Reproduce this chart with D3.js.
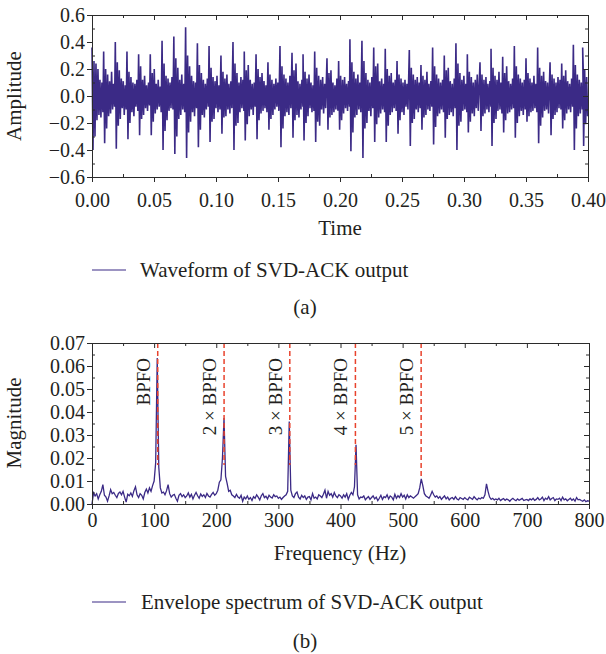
<!DOCTYPE html>
<html>
<head>
<meta charset="utf-8">
<script src="https://cdn.jsdelivr.net/npm/d3@7"></script>
<style>
  body { margin: 0; background: #fff; }
  svg { display: block; font-family: "Liberation Serif", "Times New Roman", serif; }
  .axis path, .axis line { stroke: #2b2b2b; }
  .axis text { fill: #231f20; font-family: "Liberation Serif", serif; }
</style>
</head>
<body>
<div id="chart"></div>
<script>
// (a) waveform. One row per impulse: samples every 0.8 ms starting at the impulse, amplitude x 0.01
var impulseTimes = [0.0000, 0.0094, 0.0188, 0.0282, 0.0376, 0.0470, 0.0565, 0.0660, 0.0755, 0.0850,
    0.0944, 0.1040, 0.1137, 0.1228, 0.1323, 0.1419, 0.1516, 0.1613, 0.1702, 0.1796,
    0.1895, 0.1989, 0.2080, 0.2177, 0.2272, 0.2365, 0.2460, 0.2559, 0.2653, 0.2747,
    0.2841, 0.2935, 0.3027, 0.3129, 0.3218, 0.3312, 0.3406, 0.3500, 0.3594, 0.3694,
    0.3788, 0.3882, 0.3957];
var sampleStep = 0.0008;
var waveRows = [
    [36, -40, 26, -30, 24, -18, 20, -14, 12, -16, 10, -12],
    [33, -35, 20, -24, 16, -15, 11, -13, 18, -10, 9, -8],
    [40, -39, 25, -22, 19, -17, 13, -9, 11, -14, 8, -10],
    [33, -32, 18, -20, 14, -12, 10, -15, 9, -8, 12, -11],
    [31, -29, 22, -17, 12, -14, 15, -9, 8, -11, 10, -7],
    [31, -29, 17, -19, 20, -13, 9, -10, 12, -8, 7, -12],
    [41, -40, 24, -26, 15, -18, 13, -11, 10, -9, 14, -10],
    [44, -43, 28, -30, 21, -17, 12, -14, 16, -10, 9, -12],
    [51, -46, 30, -27, 22, -19, 15, -12, 11, -15, 10, -9],
    [39, -38, 23, -25, 17, -14, 12, -16, 9, -10, 13, -8],
    [37, -34, 21, -19, 14, -17, 11, -9, 15, -12, 8, -10],
    [30, -28, 18, -16, 13, -15, 16, -10, 9, -13, 11, -9],
    [40, -40, 24, -22, 17, -20, 10, -12, 14, -9, 12, -11],
    [33, -33, 19, -21, 23, -15, 12, -10, 9, -14, 10, -8],
    [31, -32, 20, -18, 14, -13, 17, -11, 11, -9, 8, -12],
    [25, -25, 16, -17, 12, -14, 9, -10, 13, -8, 10, -11],
    [37, -38, 22, -24, 16, -15, 13, -12, 10, -14, 15, -9],
    [32, -31, 19, -18, 24, -14, 11, -16, 9, -10, 12, -8],
    [31, -33, 18, -20, 13, -15, 16, -9, 10, -12, 8, -11],
    [33, -34, 21, -19, 15, -22, 12, -10, 14, -13, 9, -9],
    [28, -25, 17, -16, 19, -14, 10, -12, 8, -10, 13, -11],
    [26, -25, 15, -18, 12, -13, 14, -9, 9, -11, 11, -8],
    [42, -41, 25, -27, 18, -16, 13, -14, 16, -10, 10, -12],
    [41, -46, 26, -24, 17, -20, 12, -11, 10, -15, 14, -9],
    [36, -34, 22, -21, 24, -16, 11, -13, 13, -10, 9, -12],
    [35, -34, 20, -22, 15, -14, 17, -12, 10, -9, 12, -11],
    [26, -28, 16, -18, 13, -12, 10, -14, 12, -8, 9, -10],
    [34, -37, 21, -20, 16, -17, 12, -10, 14, -12, 10, -9],
    [23, -25, 15, -16, 12, -14, 18, -10, 9, -11, 11, -8],
    [36, -36, 22, -23, 16, -15, 13, -13, 10, -10, 12, -12],
    [30, -31, 19, -17, 21, -14, 11, -12, 9, -15, 13, -9],
    [39, -40, 24, -22, 17, -19, 12, -11, 15, -10, 9, -12],
    [31, -27, 18, -19, 14, -13, 10, -15, 12, -9, 16, -11],
    [25, -26, 16, -15, 12, -13, 14, -10, 9, -12, 11, -8],
    [35, -37, 21, -20, 15, -17, 12, -11, 18, -10, 10, -13],
    [29, -27, 17, -18, 22, -13, 11, -12, 9, -10, 13, -9],
    [37, -31, 22, -20, 16, -15, 13, -11, 10, -14, 12, -10],
    [28, -19, 17, -15, 13, -12, 10, -11, 15, -9, 9, -12],
    [36, -35, 21, -22, 15, -16, 18, -11, 11, -10, 10, -13],
    [25, -29, 16, -17, 13, -14, 10, -12, 14, -9, 12, -10],
    [24, -24, 15, -18, 19, -13, 11, -10, 9, -12, 13, -8],
    [38, -40, 23, -24, 16, -15, 12, -13, 10, -10, 14, -11],
    [36, -37, 20, -21, 14, -15]
];

// (b) envelope spectrum, 2.5 Hz bins from 0 Hz, magnitude x 0.0001
var freqStep = 2.5;
var spectrum = [
    0, 48, 35, 45, 22, 40, 55, 84, 38, 30, 12, 35, 62, 45, 50, 38, 28, 46, 52, 40,
    55, 30, 8, 42, 36, 48, 33, 58, 75, 40, 28, 45, 38, 22, 50, 65, 48, 70, 55, 80,
    100, 180, 635, 160, 70, 48, 52, 40, 58, 84, 45, 30, 38, 42, 25, 12, 38, 45, 32, 40,
    28, 35, 48, 30, 42, 22, 38, 50, 36, 25, 44, 33, 40, 28, 46, 35, 30, 42, 50, 38,
    45, 60, 95, 105, 200, 374, 120, 90, 55, 60, 40, 35, 28, 42, 30, 25, 38, 12, 30, 22,
    35, 20, 28, 15, 32, 25, 40, 30, 18, 36, 45, 28, 34, 22, 38, 30, 26, 40, 32, 35,
    25, 30, 20, 28, 35, 40, 55, 359, 60, 35, 28, 45, 52, 30, 22, 38, 28, 35, 20, 30,
    32, 18, 45, 25, 30, 22, 40, 35, 28, 42, 60, 25, 55, 38, 45, 30, 50, 35, 28, 40,
    35, 25, 40, 30, 45, 20, 38, 50, 40, 75, 258, 40, 22, 30, 28, 35, 18, 26, 32, 20,
    28, 35, 22, 30, 15, 25, 38, 20, 32, 28, 40, 22, 35, 30, 18, 42, 25, 36, 28, 45,
    30, 38, 22, 40, 28, 35, 30, 25, 32, 38, 45, 70, 109, 80, 45, 35, 30, 25, 38, 55,
    40, 30, 35, 25, 32, 20, 28, 35, 22, 30, 18, 25, 28, 20, 32, 22, 18, 28, 24, 20,
    28, 22, 18, 30, 25, 20, 32, 24, 18, 26, 22, 28, 25, 40, 88, 55, 30, 20, 25, 18,
    22, 18, 25, 15, 20, 24, 16, 22, 18, 12, 20, 25, 18, 14, 22, 16, 20, 24, 15, 18,
    20, 15, 22, 18, 25, 16, 20, 28, 18, 22, 30, 15, 25, 20, 32, 18, 24, 28, 15, 22,
    20, 25, 15, 30, 18, 22, 14, 20, 25, 16, 22, 12, 28, 18, 20, 15, 12, 18, 10, 14,
    12
];

var bpfoFreqs = [105.8, 212.6, 318.4, 424, 529.8];
var bpfoLabels = ['BPFO', '2 × BPFO', '3 × BPFO', '4 × BPFO', '5 × BPFO'];

var timeTicks = [0, 0.05, 0.1, 0.15, 0.2, 0.25, 0.3, 0.35, 0.4];
var timeMinor = [0.025, 0.075, 0.125, 0.175, 0.225, 0.275, 0.325, 0.375];
var ampTicks = [-0.6, -0.4, -0.2, 0, 0.2, 0.4, 0.6];
var ampMinor = [-0.5, -0.3, -0.1, 0.1, 0.3, 0.5];
var freqTicks = [0, 100, 200, 300, 400, 500, 600, 700, 800];
var freqMinor = [50, 150, 250, 350, 450, 550, 650, 750];
var magTicks = [0, 0.01, 0.02, 0.03, 0.04, 0.05, 0.06, 0.07];
var magMinor = [0.005, 0.015, 0.025, 0.035, 0.045, 0.055, 0.065];

var lineColor = '#3b2a86';
var dashColor = '#e8432d';
var textColor = '#231f20';

var svg = d3.select('#chart').append('svg')
    .attr('width', 606)
    .attr('height', 654);

// axes on all four sides: major ticks outside on left/bottom, minor inside, mirrored ticks inside
function frame(g, x, y, xt, xm, yt, ym, xfmt, yfmt, xLabelY) {
    var w = x.range()[1], h = y.range()[0];
    var bottom = g.append('g').attr('class', 'axis').attr('transform', 'translate(0,' + h + ')')
        .call(d3.axisBottom(x).tickValues(xt).tickSizeInner(5).tickSizeOuter(0).tickFormat(xfmt));
    bottom.selectAll('text').attr('y', xLabelY).attr('dy', null).style('font-size', '20px');
    g.append('g').attr('class', 'axis').attr('transform', 'translate(0,' + h + ')')
        .call(d3.axisBottom(x).tickValues(xm).tickSize(-3).tickFormat(''))
        .call(function(s) { s.select('.domain').remove(); });

    var left = g.append('g').attr('class', 'axis')
        .call(d3.axisLeft(y).tickValues(yt).tickSizeInner(5).tickSizeOuter(0).tickPadding(2).tickFormat(yfmt));
    left.selectAll('text').style('font-size', '20px');
    g.append('g').attr('class', 'axis')
        .call(d3.axisLeft(y).tickValues(ym).tickSize(-3).tickFormat(''))
        .call(function(s) { s.select('.domain').remove(); });

    g.append('g').attr('class', 'axis')
        .call(d3.axisTop(x).tickValues(xt).tickSize(-5).tickFormat(''));
    g.append('g').attr('class', 'axis')
        .call(d3.axisTop(x).tickValues(xm).tickSize(-3).tickFormat(''))
        .call(function(s) { s.select('.domain').remove(); });
    g.append('g').attr('class', 'axis').attr('transform', 'translate(' + w + ',0)')
        .call(d3.axisRight(y).tickValues(yt).tickSize(-5).tickFormat(''));
    g.append('g').attr('class', 'axis').attr('transform', 'translate(' + w + ',0)')
        .call(d3.axisRight(y).tickValues(ym).tickSize(-3).tickFormat(''))
        .call(function(s) { s.select('.domain').remove(); });
}

function label(x, y, txt, size, rotate, anchor) {
    return svg.append('text')
        .attr('transform', 'translate(' + x + ',' + y + ')' + (rotate ? ' rotate(-90)' : ''))
        .attr('text-anchor', anchor || 'middle')
        .attr('fill', textColor)
        .style('font-size', size + 'px')
        .text(txt);
}

// ---- (a) waveform
var wave = [];
impulseTimes.forEach(function(t0, k) {
    waveRows[k].forEach(function(v, j) {
        wave.push({ t: t0 + j * sampleStep, a: v / 100 });
    });
});

var gA = svg.append('g').attr('transform', 'translate(92,15)');
var xA = d3.scaleLinear().domain([0, 0.4]).range([0, 496]);
var yA = d3.scaleLinear().domain([-0.6, 0.6]).range([162, 0]);

gA.append('path')
    .datum(wave)
    .attr('fill', 'none')
    .attr('stroke', lineColor)
    .attr('stroke-width', 1.6)
    .attr('stroke-linejoin', 'bevel')
    .attr('d', d3.line().x(function(d) { return xA(d.t); }).y(function(d) { return yA(d.a); }));

frame(gA, xA, yA, timeTicks, timeMinor, ampTicks, ampMinor, d3.format('.2f'), d3.format('.1f'), 30);

label(21, 96, 'Amplitude', 21, true);
label(340, 235, 'Time', 21);
svg.append('line').attr('x1', 92).attr('x2', 126).attr('y1', 270).attr('y2', 270)
    .attr('stroke', lineColor).attr('stroke-width', 1.2);
label(140, 277, 'Waveform of SVD-ACK output', 21, false, 'start');
label(305, 314, '(a)', 21);

// ---- (b) envelope spectrum
var spec = spectrum.map(function(v, i) {
    return { f: i * freqStep, m: v / 10000 };
});

var gB = svg.append('g').attr('transform', 'translate(92,343)');
var xB = d3.scaleLinear().domain([0, 800]).range([0, 497]);
var yB = d3.scaleLinear().domain([0, 0.07]).range([161, 0]);

gB.append('path')
    .datum(spec)
    .attr('fill', 'none')
    .attr('stroke', lineColor)
    .attr('stroke-width', 1.3)
    .attr('d', d3.line().x(function(d) { return xB(d.f); }).y(function(d) { return yB(d.m); }));

bpfoFreqs.forEach(function(f, i) {
    var peak = spectrum[Math.round(f / freqStep)] / 10000;
    gB.append('line')
        .attr('x1', xB(f)).attr('x2', xB(f))
        .attr('y1', yB(0.07)).attr('y2', yB(Math.min(0.017, peak)))
        .attr('stroke', dashColor)
        .attr('stroke-width', 1.5)
        .attr('stroke-dasharray', '5,3');
    gB.append('text')
        .attr('transform', 'translate(' + (xB(f) - 8) + ',15) rotate(-90)')
        .attr('text-anchor', 'end')
        .attr('fill', textColor)
        .style('font-size', '19px')
        .text(bpfoLabels[i]);
});

frame(gB, xB, yB, freqTicks, freqMinor, magTicks, magMinor, d3.format('d'), d3.format('.2f'), 23);

label(21, 423, 'Magnitude', 21, true);
label(340, 560, 'Frequency (Hz)', 21);
svg.append('line').attr('x1', 92).attr('x2', 126).attr('y1', 602).attr('y2', 602)
    .attr('stroke', lineColor).attr('stroke-width', 1.2);
label(141, 609, 'Envelope spectrum of SVD-ACK output', 21, false, 'start');
label(305, 648, '(b)', 21);
</script>
</body>
</html>
